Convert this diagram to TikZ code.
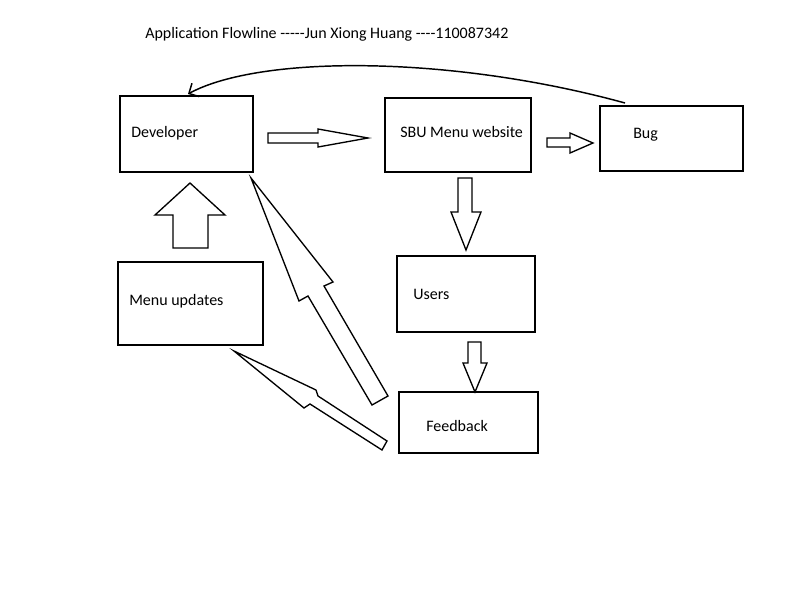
\documentclass[tikz,border=0pt]{standalone}
\usepackage{fontspec}
\setmainfont{Carlito}[Ligatures=TeXOff]
\usepackage{tikz}
\usetikzlibrary{arrows.meta,fit}

\begin{document}
\begin{tikzpicture}[
  x=0.75pt, y=-0.75pt,
  box/.style={draw,line width=1.5pt,inner sep=0pt},
  blk/.style={draw,line width=1pt,fill=white,line join=miter},
  lbl/.style={font=\fontsize{12}{14}\selectfont,inner sep=0pt},
]
  \useasboundingbox (0,0) rectangle (800,600);

  % --- title ---
  \node[lbl,anchor=west] (title) at (145,34)
    {Application Flowline -----Jun Xiong Huang ----110087342};

  % --- boxes ---
  \node[box,fit={(120,96) (253,172)}] (dev) {};
  \node[box,fit={(385,98) (531,172)}] (site) {};
  \node[box,fit={(600,106) (743,171)}] (bug) {};
  \node[box,fit={(397,256) (535,332)}] (users) {};
  \node[box,fit={(118,262) (263,345)}] (upd) {};
  \node[box,fit={(399,392) (538,453)}] (fb) {};

  \node[lbl,anchor=west] (devtxt) at (131,133) {Developer};
  \node[lbl,anchor=west] (sitetxt) at (400,132) {SBU Menu website};
  \node[lbl,anchor=west] (bugtxt) at (633,135) {Bug};
  \node[lbl,anchor=west] (userstxt) at (413,294) {Users};
  \node[lbl,anchor=west] (updtxt) at (129,301) {Menu updates};
  \node[lbl,anchor=west] (fbtxt) at (426,426) {Feedback};

  % --- block arrows ---
  \draw[blk] (268,133) -- (318,133) -- (318,129) -- (368,138)
    -- (318,147) -- (318,143) -- (268,143) -- cycle;
  \draw[blk] (547,138) -- (570,138) -- (570,133) -- (593,143)
    -- (570,153) -- (570,147) -- (547,147) -- cycle;
  \draw[blk] (458,178) -- (472,178) -- (472,212) -- (481,212)
    -- (466,250) -- (451,212) -- (458,212) -- cycle;
  \draw[blk] (468,342) -- (481,342) -- (481,363) -- (487,363)
    -- (475,392) -- (463,363) -- (468,363) -- cycle;
  \draw[blk] (173,248) -- (173,215) -- (155,215) -- (190,183)
    -- (225,215) -- (208,215) -- (208,248) -- cycle;
  \draw[blk] (251,178) -- (333,282) -- (324,286) -- (388,396)
    -- (372,405) -- (308,296) -- (299,301) -- cycle;
  \draw[blk] (234,351) -- (316,390) -- (318,396) -- (387,441)
    -- (382,450) -- (310,404) -- (304,408) -- cycle;

  % --- bug report back to developer ---
  \coordinate (bugtop) at (625,103);
  \coordinate (devtop) at (188,94);
  \draw[line width=1.1pt,-{Straight Barb[length=2mm]}] (bugtop)
    .. controls (450,55) and (260,55) .. (devtop);

\end{tikzpicture}
\end{document}
